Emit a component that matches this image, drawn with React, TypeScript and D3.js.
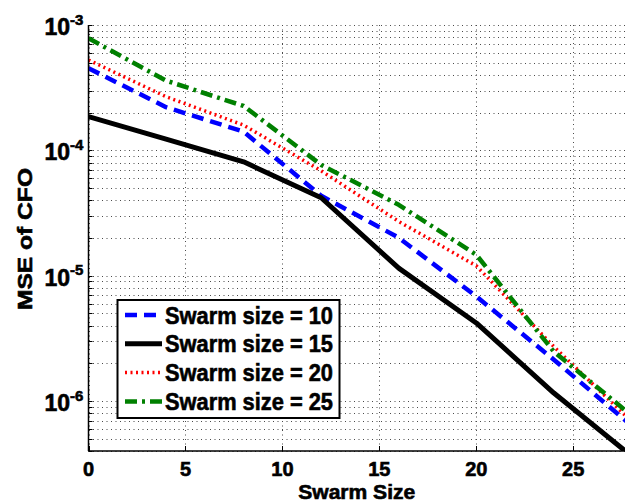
import React from "react";
import * as d3 from "d3";

const xs = [0, 4, 8, 12, 16, 20, 24, 28];
const swarm10 = [4.52e-4, 2.21e-4, 1.41e-4, 4.34e-5, 2.01e-5, 6.84e-6, 2.14e-6, 6.4e-7];
const swarm15 = [1.86e-4, 1.23e-4, 8.1e-5, 4.19e-5, 1.15e-5, 4.2e-6, 1.16e-6, 3.65e-7];
const swarm20 = [5.26e-4, 2.68e-4, 1.59e-4, 6.87e-5, 2.71e-5, 1.2e-5, 2.72e-6, 6.9e-7];
const swarm25 = [7.83e-4, 3.6e-4, 2.26e-4, 7.66e-5, 3.68e-5, 1.47e-5, 2.48e-6, 7.7e-7];
const xTicks = [0, 5, 10, 15, 20, 25];
const yDecades = [-3, -4, -5, -6];
const legendLabels = ["Swarm size = 10", "Swarm size = 15", "Swarm size = 20", "Swarm size = 25"];

const W = 625, H = 503;
const L = 88.5, R = 625, T = 25, B = 451;
const FONT = "'Liberation Sans', Arial, Helvetica, sans-serif";

export default function App() {
  const x = d3.scaleLinear().domain([0, 27.67]).range([L, R]);
  const y = d3.scaleLog().domain([4e-7, 1e-3]).range([B, T]);

  const series = [
    { vals: swarm10, color: "#0000ff", width: 4.5, dash: "12,7" },
    { vals: swarm15, color: "#000000", width: 5, dash: null },
    { vals: swarm20, color: "#ff0000", width: 3.5, dash: "2,3.5" },
    { vals: swarm25, color: "#008000", width: 4.5, dash: "12,5,3,5" },
  ];

  const line = (vals: number[]) =>
    d3.line<number>().x((_, i) => x(xs[i])).y((v) => y(v))(vals) || "";

  const minor: number[] = [];
  for (let e = -7; e <= -4; e++) {
    for (let m = 1; m <= 9; m++) {
      const v = m * Math.pow(10, e);
      if (v >= 4e-7 - 1e-12 && v <= 1e-3 + 1e-12) minor.push(v);
    }
  }
  minor.push(1e-3);

  const bold = { fontFamily: FONT, fontWeight: "bold" as const, stroke: "#000", strokeWidth: 0.6 };

  return (
    <svg width={W} height={H} style={{ position: "absolute", left: 0, top: 0, background: "#fff" }}>
      <defs>
        <clipPath id="plotclip">
          <rect x={L} y={T} width={R - L} height={B - T} />
        </clipPath>
      </defs>
      <rect x={0} y={0} width={W} height={H} fill="#fff" />
      <g stroke="#000" strokeWidth={1} strokeDasharray="1,3.5" opacity={0.7}>
        {minor.map((v, i) => (
          <line key={"h" + i} x1={L} x2={R} y1={Math.round(y(v)) + 0.5} y2={Math.round(y(v)) + 0.5} />
        ))}
        {xTicks.map((t) => (
          <line key={"v" + t} x1={Math.round(x(t)) + 0.5} x2={Math.round(x(t)) + 0.5} y1={T} y2={B} />
        ))}
      </g>
      <g stroke="#000" strokeWidth={1}>
        {minor.map((v, i) => (
          <line key={"t" + i} x1={L} x2={L + 4} y1={Math.round(y(v)) + 0.5} y2={Math.round(y(v)) + 0.5} />
        ))}
        {xTicks.map((t) => (
          <line key={"xt" + t} x1={Math.round(x(t)) + 0.5} x2={Math.round(x(t)) + 0.5} y1={B} y2={B - 5} />
        ))}
      </g>
      <g clipPath="url(#plotclip)" fill="none">
        {series.map((s, i) => (
          <path
            key={i}
            d={line(s.vals)}
            stroke={s.color}
            strokeWidth={s.width}
            strokeDasharray={s.dash || undefined}
            strokeLinejoin="round"
          />
        ))}
      </g>
      <line x1={L} x2={L} y1={T} y2={B} stroke="#000" strokeWidth={1.5} />
      <line x1={L} x2={R} y1={B} y2={B} stroke="#000" strokeWidth={1.5} />
      <g {...bold} fontSize={20} textAnchor="middle">
        {xTicks.map((t) => (
          <text key={"xl" + t} x={x(t)} y={476}>
            {t}
          </text>
        ))}
      </g>
      <g {...bold}>
        {yDecades.map((e) => (
          <g key={"yl" + e}>
            <text x={70} y={y(Math.pow(10, e)) + 10} fontSize={23} textAnchor="end">
              10
            </text>
            <text x={70} y={y(Math.pow(10, e)) - 0.5} fontSize={15} textAnchor="start">
              {"-" + -e}
            </text>
          </g>
        ))}
      </g>
      <text
        x={(L + R) / 2}
        y={499}
        {...bold}
        fontSize={20}
        textAnchor="middle"
        textLength={117}
        lengthAdjust="spacingAndGlyphs"
      >
        Swarm Size
      </text>
      <text
        transform={`translate(32, 239) rotate(-90)`}
        {...bold}
        fontSize={21}
        textAnchor="middle"
        textLength={142}
        lengthAdjust="spacingAndGlyphs"
      >
        MSE of CFO
      </text>
      <rect x={117.5} y={300} width={222} height={118} fill="#fff" stroke="#000" strokeWidth={2} />
      {series.map((s, i) => {
        const cy = 315 + i * 28.8;
        return (
          <g key={"lg" + i}>
            <line
              x1={125}
              x2={162}
              y1={cy}
              y2={cy}
              stroke={s.color}
              strokeWidth={s.width}
              strokeDasharray={s.dash || undefined}
            />
            <text
              x={165}
              y={cy + 8.5}
              {...bold}
              fontSize={24}
              textLength={168}
              lengthAdjust="spacingAndGlyphs"
            >
              {legendLabels[i]}
            </text>
          </g>
        );
      })}
    </svg>
  );
}
